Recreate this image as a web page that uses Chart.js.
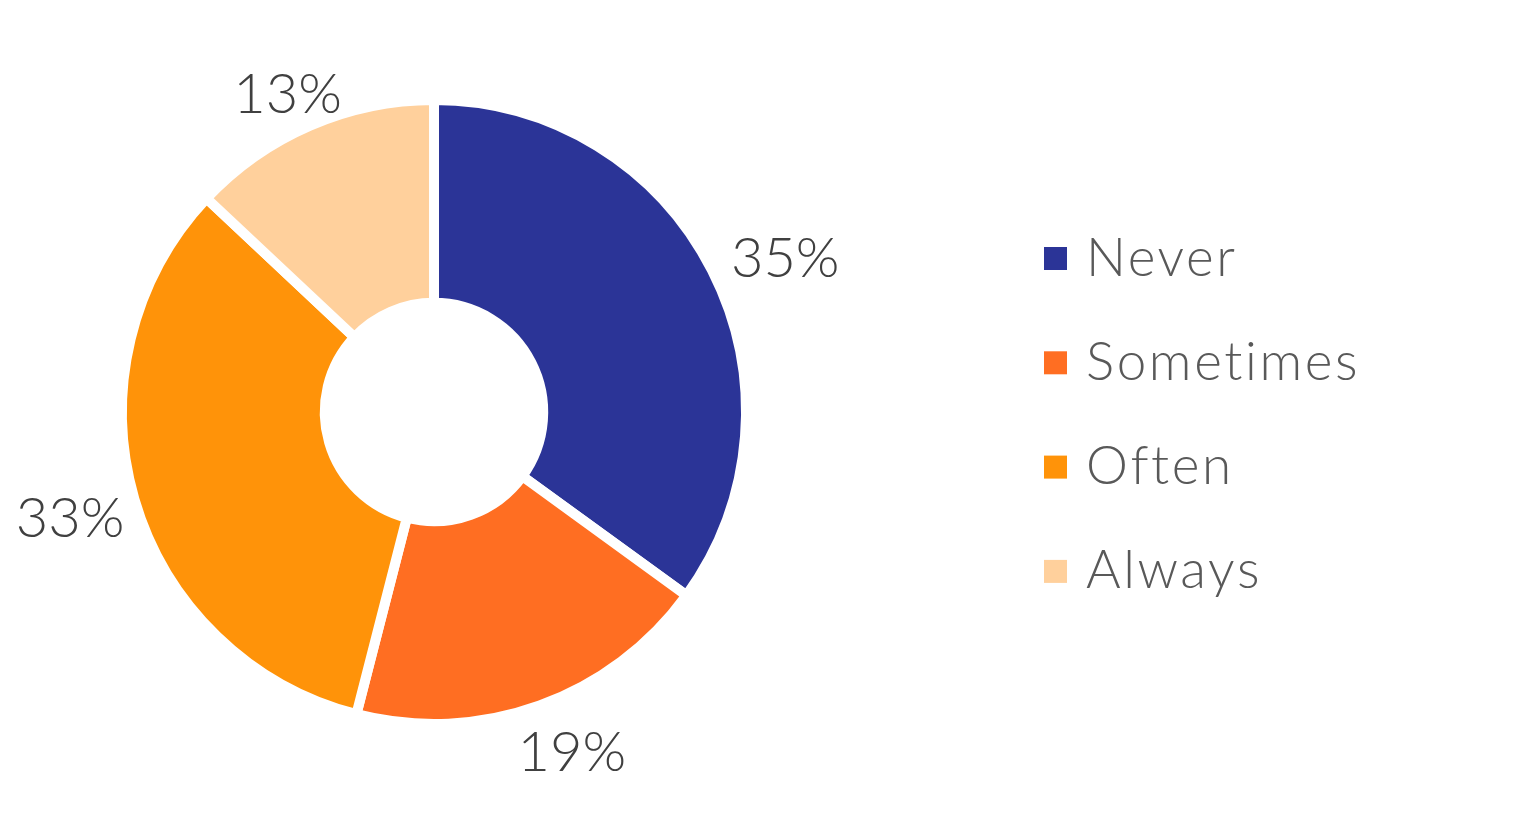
<!DOCTYPE html>
<html><head><meta charset="utf-8">
<script src="https://cdn.jsdelivr.net/npm/chart.js@4.4.1/dist/chart.umd.min.js"></script>
<style>html,body{margin:0;padding:0;background:#fff;overflow:hidden;} #wrap{width:1519px;height:825px;position:relative;}</style>
</head><body><div id="wrap"><canvas id="c" width="1519" height="825"></canvas></div>
<script>
const categories = ['Never', 'Sometimes', 'Often', 'Always'];
const shares = [35, 19, 33, 13];
const sliceColors = ['#2B3497', '#FF6E22', '#FF9309', '#FFD09C'];
const labelSuffix = '%';

const FONT = "Lato, 'Noto Sans', sans-serif";

const outsideLabels = {
  id: 'outsideLabels',
  afterDatasetsDraw(chart, args, opts) {
    const ctx = chart.ctx;
    const meta = chart.getDatasetMeta(0);
    ctx.save();
    ctx.font = `${opts.weight} ${opts.size}px ${FONT}`;
    ctx.fillStyle = opts.color;
    ctx.textAlign = 'center';
    ctx.textBaseline = 'middle';
    meta.data.forEach((arc, i) => {
      const p = arc.getProps(['x', 'y', 'startAngle', 'endAngle', 'outerRadius'], true);
      const mid = (p.startAngle + p.endAngle) / 2;
      const dx = Math.cos(mid), dy = Math.sin(mid);
      const text = chart.data.datasets[0].data[i] + labelSuffix;
      const w = ctx.measureText(text).width;
      const h = opts.size * 0.78;
      const r = p.outerRadius + opts.gap;
      ctx.fillText(text, p.x + dx * r + dx * w / 2 + opts.shiftX, p.y + dy * r + dy * h / 2 + opts.shiftY);
    });
    ctx.restore();
  }
};

const sideLegend = {
  id: 'sideLegend',
  afterDraw(chart, args, o) {
    const ctx = chart.ctx;
    ctx.save();
    ctx.font = `${o.weight} ${o.size}px ${FONT}`;
    ctx.textBaseline = 'alphabetic';
    ctx.textAlign = 'left';
    if ('letterSpacing' in ctx) ctx.letterSpacing = o.letterSpacing;
    chart.data.labels.forEach((lab, i) => {
      const cy = o.top + i * o.step;
      ctx.fillStyle = chart.data.datasets[0].backgroundColor[i];
      ctx.fillRect(o.x, cy - o.box / 2, o.box, o.box);
      ctx.fillStyle = o.color;
      ctx.fillText(lab, o.textX, cy + o.baselineShift);
    });
    ctx.restore();
  }
};

new Chart(document.getElementById('c'), {
  type: 'doughnut',
  data: {
    labels: categories,
    datasets: [{
      data: shares,
      backgroundColor: sliceColors,
      borderColor: '#ffffff',
      borderWidth: 10,
      borderJoinStyle: 'miter',
      hoverOffset: 0,
      hoverBorderWidth: 10
    }]
  },
  options: {
    responsive: false,
    animation: false,
    radius: 312,
    cutout: '35%',
    rotation: 0,
    layout: { padding: { left: 110, right: 761, top: 100, bottom: 101 } },
    events: [],
    plugins: {
      legend: { display: false },
      tooltip: { enabled: false },
      outsideLabels: { size: 56, weight: 300, color: '#404040', gap: 20, shiftX: 7, shiftY: 8 },
      sideLegend: { x: 1044, box: 23, textX: 1086, top: 258.5, step: 104.3, baselineShift: 17, size: 53, weight: 300, color: '#595959', letterSpacing: '2.6px' }
    }
  },
  plugins: [outsideLabels, sideLegend]
});
</script>
</body></html>
